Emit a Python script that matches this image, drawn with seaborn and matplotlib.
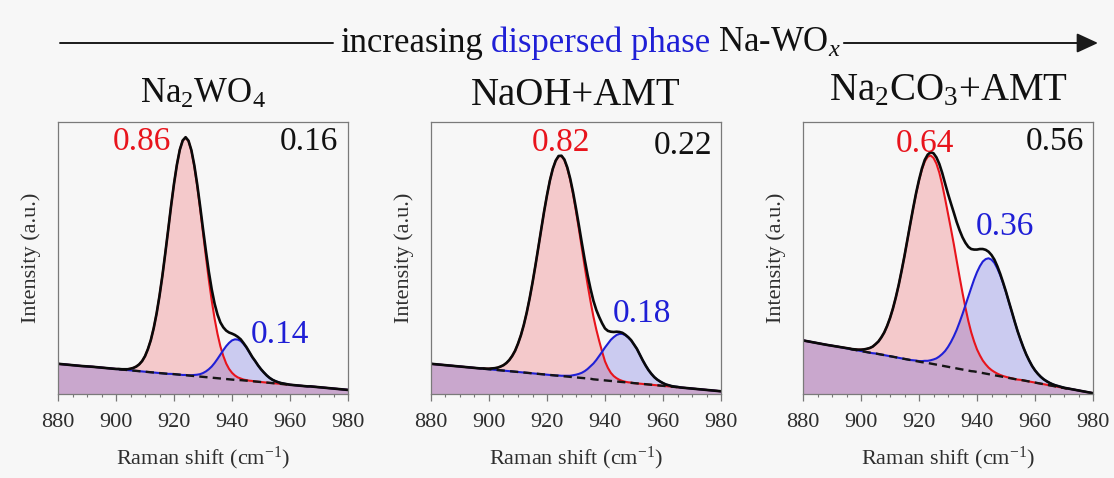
import matplotlib

matplotlib.use("Agg")
import matplotlib.pyplot as plt
import numpy as np
import pandas as pd
import seaborn as sns
from matplotlib.lines import Line2D
from matplotlib.patches import FancyArrowPatch
from matplotlib.ticker import MultipleLocator

# Raman shift grid (cm-1): coarse on the flat ends, 1 cm-1 through the bands
raman_shift = [880, 884, 888, 892,
               896, 897, 898, 899, 900, 901, 902, 903, 904, 905,
               906, 907, 908, 909, 910, 911, 912, 913, 914, 915,
               916, 917, 918, 919, 920, 921, 922, 923, 924, 925,
               926, 927, 928, 929, 930, 931, 932, 933, 934, 935,
               936, 937, 938, 939, 940, 941, 942, 943, 944, 945,
               946, 947, 948, 949, 950, 951, 952, 953, 954, 955,
               956, 957, 958, 959, 960, 961, 962, 963, 964, 965,
               966, 967, 968, 969, 970, 971, 972,
               976, 980]

# --- Na2WO4 ---
base_na2wo4 = [0.111, 0.107, 0.103, 0.100,
               0.096, 0.095, 0.094, 0.093, 0.092, 0.091, 0.090, 0.089, 0.088, 0.087,
               0.086, 0.085, 0.084, 0.083, 0.082, 0.081, 0.080, 0.079, 0.078, 0.077,
               0.076, 0.075, 0.074, 0.074, 0.073, 0.072, 0.071, 0.070, 0.069, 0.068,
               0.067, 0.066, 0.065, 0.064, 0.063, 0.062, 0.061, 0.060, 0.059, 0.058,
               0.057, 0.056, 0.055, 0.054, 0.053, 0.052, 0.051, 0.051, 0.050, 0.049,
               0.048, 0.047, 0.046, 0.045, 0.044, 0.043, 0.042, 0.041, 0.040, 0.039,
               0.038, 0.037, 0.036, 0.035, 0.034, 0.033, 0.032, 0.031, 0.030, 0.029,
               0.028, 0.028, 0.027, 0.026, 0.025, 0.024, 0.023,
               0.019, 0.015]
bulk_na2wo4 = [0, 0, 0, 0,
               0, 0, 0, 0, 0, 0.001, 0.001, 0.002, 0.003, 0.006,
               0.010, 0.016, 0.025, 0.038, 0.057, 0.084, 0.118, 0.163, 0.218, 0.284,
               0.359, 0.443, 0.530, 0.618, 0.700, 0.771, 0.827, 0.862, 0.874, 0.862,
               0.827, 0.771, 0.700, 0.618, 0.530, 0.443, 0.359, 0.284, 0.218, 0.163,
               0.118, 0.084, 0.057, 0.038, 0.025, 0.016, 0.010, 0.006, 0.003, 0.002,
               0.001, 0.001, 0, 0, 0, 0, 0, 0, 0, 0,
               0, 0, 0, 0, 0, 0, 0, 0, 0, 0,
               0, 0, 0, 0, 0, 0, 0,
               0, 0]
disp_na2wo4 = [0, 0, 0, 0,
               0, 0, 0, 0, 0, 0, 0, 0, 0, 0,
               0, 0, 0, 0, 0, 0, 0, 0, 0, 0,
               0, 0, 0, 0, 0, 0, 0, 0, 0.001, 0.001,
               0.002, 0.004, 0.006, 0.009, 0.014, 0.021, 0.030, 0.041, 0.055, 0.071,
               0.088, 0.105, 0.121, 0.134, 0.144, 0.149, 0.149, 0.144, 0.134, 0.121,
               0.105, 0.088, 0.075, 0.060, 0.047, 0.036, 0.026, 0.018, 0.012, 0.008,
               0.005, 0.003, 0.002, 0.001, 0, 0, 0, 0, 0, 0,
               0, 0, 0, 0, 0, 0, 0,
               0, 0]

# --- NaOH+AMT ---
base_naoh = [0.111, 0.107, 0.103, 0.099,
             0.095, 0.094, 0.093, 0.092, 0.091, 0.090, 0.089, 0.088, 0.087, 0.086,
             0.085, 0.084, 0.083, 0.082, 0.081, 0.080, 0.079, 0.078, 0.077, 0.076,
             0.075, 0.074, 0.073, 0.072, 0.071, 0.070, 0.069, 0.068, 0.067, 0.066,
             0.065, 0.064, 0.063, 0.062, 0.061, 0.060, 0.059, 0.058, 0.057, 0.056,
             0.054, 0.053, 0.052, 0.051, 0.050, 0.049, 0.048, 0.047, 0.046, 0.045,
             0.044, 0.043, 0.042, 0.041, 0.040, 0.039, 0.038, 0.037, 0.036, 0.035,
             0.034, 0.033, 0.032, 0.031, 0.030, 0.029, 0.028, 0.027, 0.026, 0.025,
             0.024, 0.023, 0.022, 0.021, 0.020, 0.019, 0.018,
             0.014, 0.010]
bulk_naoh = [0, 0, 0, 0,
             0, 0, 0.001, 0.001, 0.002, 0.004, 0.006, 0.009, 0.014, 0.020,
             0.029, 0.041, 0.057, 0.077, 0.104, 0.136, 0.175, 0.221, 0.274, 0.333,
             0.397, 0.464, 0.532, 0.599, 0.660, 0.715, 0.759, 0.790, 0.807, 0.809,
             0.795, 0.766, 0.725, 0.672, 0.611, 0.546, 0.478, 0.410, 0.345, 0.285,
             0.231, 0.184, 0.143, 0.105, 0.070, 0.047, 0.030, 0.019, 0.012, 0.007,
             0.004, 0.002, 0.001, 0.001, 0, 0, 0, 0, 0, 0,
             0, 0, 0, 0, 0, 0, 0, 0, 0, 0,
             0, 0, 0, 0, 0, 0, 0,
             0, 0]
disp_naoh = [0, 0, 0, 0,
             0, 0, 0, 0, 0, 0, 0, 0, 0, 0,
             0, 0, 0, 0, 0, 0, 0, 0, 0, 0,
             0, 0, 0, 0, 0, 0, 0, 0, 0.001, 0.001,
             0.002, 0.003, 0.004, 0.007, 0.010, 0.014, 0.019, 0.026, 0.035, 0.046,
             0.058, 0.072, 0.088, 0.104, 0.121, 0.136, 0.151, 0.162, 0.171, 0.176,
             0.177, 0.173, 0.166, 0.156, 0.142, 0.127, 0.107, 0.087, 0.069, 0.053,
             0.040, 0.029, 0.021, 0.015, 0.010, 0.006, 0.004, 0.002, 0.001, 0.001,
             0, 0, 0, 0, 0, 0, 0,
             0, 0]

# --- Na2CO3+AMT ---
base_na2co3 = [0.197, 0.189, 0.181, 0.174,
               0.166, 0.164, 0.162, 0.160, 0.158, 0.156, 0.154, 0.152, 0.150, 0.149,
               0.147, 0.145, 0.143, 0.141, 0.139, 0.137, 0.135, 0.133, 0.131, 0.129,
               0.127, 0.125, 0.123, 0.121, 0.119, 0.117, 0.116, 0.114, 0.112, 0.110,
               0.108, 0.106, 0.104, 0.102, 0.100, 0.098, 0.096, 0.094, 0.092, 0.090,
               0.088, 0.086, 0.084, 0.083, 0.081, 0.079, 0.077, 0.075, 0.073, 0.071,
               0.069, 0.067, 0.065, 0.063, 0.061, 0.059, 0.057, 0.055, 0.053, 0.052,
               0.050, 0.048, 0.046, 0.044, 0.042, 0.040, 0.038, 0.036, 0.034, 0.032,
               0.030, 0.028, 0.026, 0.024, 0.022, 0.020, 0.019,
               0.011, 0.003]
bulk_na2co3 = [0, 0, 0, 0,
               0.001, 0.001, 0.002, 0.003, 0.005, 0.008, 0.012, 0.017, 0.024, 0.034,
               0.046, 0.063, 0.083, 0.109, 0.140, 0.177, 0.220, 0.268, 0.322, 0.379,
               0.440, 0.501, 0.560, 0.616, 0.666, 0.708, 0.739, 0.758, 0.765, 0.758,
               0.739, 0.708, 0.666, 0.616, 0.563, 0.510, 0.455, 0.396, 0.338, 0.282,
               0.230, 0.183, 0.143, 0.110, 0.083, 0.063, 0.046, 0.034, 0.024, 0.017,
               0.012, 0.008, 0.005, 0.003, 0.002, 0.001, 0.001, 0, 0, 0,
               0, 0, 0, 0, 0, 0, 0, 0, 0, 0,
               0, 0, 0, 0, 0, 0, 0,
               0, 0]
disp_na2co3 = [0, 0, 0, 0,
               0, 0, 0, 0, 0, 0, 0, 0, 0, 0,
               0, 0, 0, 0, 0, 0, 0, 0, 0, 0,
               0, 0, 0.001, 0.002, 0.002, 0.004, 0.006, 0.008, 0.012, 0.017,
               0.023, 0.032, 0.043, 0.056, 0.073, 0.093, 0.116, 0.142, 0.172, 0.204,
               0.238, 0.272, 0.306, 0.338, 0.367, 0.391, 0.410, 0.421, 0.426, 0.423,
               0.413, 0.395, 0.372, 0.344, 0.313, 0.279, 0.245, 0.211, 0.178, 0.148,
               0.121, 0.097, 0.077, 0.059, 0.045, 0.034, 0.025, 0.018, 0.013, 0.009,
               0.006, 0.004, 0.003, 0.002, 0.001, 0.001, 0,
               0, 0]

samples = ["Na$_2$WO$_4$", "NaOH+AMT", "Na$_2$CO$_3$+AMT"]
bulk_frac = ["0.86", "0.82", "0.64"]
disp_frac = ["0.14", "0.18", "0.36"]
ratio_text = ["0.16", "0.22", "0.56"]

bases = [base_na2wo4, base_naoh, base_na2co3]
bulks = [bulk_na2wo4, bulk_naoh, bulk_na2co3]
disps = [disp_na2wo4, disp_naoh, disp_na2co3]

# layout (pixels of a 1114x478 canvas)
W, H = 1114, 478
ax_left = [58, 431, 803]
ax_w, ax_h, ax_bottom = 290, 272, 84
title_base = [1.072, 1.062, 1.080]
title_size = [25, 28, 28]
# (x, baseline y) in axes fraction for the red / black / blue numbers
pos_bulk = [(0.29, 0.897), (0.448, 0.894), (0.419, 0.889)]
pos_ratio = [(0.866, 0.897), (0.869, 0.883), (0.868, 0.896)]
pos_disp = [(0.766, 0.188), (0.729, 0.264), (0.698, 0.584)]

red = "#e8141c"
blue = "#1f1fd6"
bg = "#f7f7f7"
grey = "#2e2e2e"

sns.set_theme(style="ticks")
plt.rcParams["font.family"] = ["Liberation Serif", "DejaVu Serif"]
plt.rcParams["mathtext.fontset"] = "custom"
plt.rcParams["mathtext.rm"] = "Liberation Serif"
plt.rcParams["mathtext.it"] = "Liberation Serif:italic"
plt.rcParams["mathtext.bf"] = "Liberation Serif:bold"

fig = plt.figure(figsize=(W / 100, H / 100), dpi=100, facecolor=bg)

for k in range(3):
    ax = fig.add_axes([ax_left[k] / W, ax_bottom / H, ax_w / W, ax_h / H])
    ax.set_facecolor(bg)

    df = pd.DataFrame(
        {"shift": raman_shift, "base": bases[k], "bulk": bulks[k], "disp": disps[k]}
    )
    df["bulk_line"] = df["base"] + df["bulk"]
    df["disp_line"] = df["base"] + df["disp"]
    df["total"] = df["base"] + df["bulk"] + df["disp"]

    # filled components (both filled down to zero -> purple overlap)
    ax.fill_between(df["shift"], 0, df["bulk_line"], color=red, alpha=0.2, lw=0)
    ax.fill_between(df["shift"], 0, df["disp_line"], color=blue, alpha=0.2, lw=0)

    sns.lineplot(data=df, x="shift", y="bulk_line", color=red, lw=1.5, ax=ax)
    sns.lineplot(data=df, x="shift", y="disp_line", color=blue, lw=1.5, ax=ax)

    band = df[(df["bulk"] + df["disp"]) > 0]
    sns.lineplot(
        data=band, x="shift", y="base", color="#151515", lw=1.7,
        linestyle=(0, (3.5, 2.2)), ax=ax,
    )
    sns.lineplot(data=df, x="shift", y="total", color="#0a0a0a", lw=1.9, ax=ax)

    ax.set_xlim(880, 980)
    ax.set_ylim(0, 1)
    ax.set_yticks([])
    ax.xaxis.set_major_locator(MultipleLocator(20))
    ax.xaxis.set_minor_locator(MultipleLocator(5))
    ax.tick_params(axis="x", which="major", direction="out", length=5, width=0.9,
                   color="#777777", labelsize=16, labelcolor=grey, pad=9)
    ax.tick_params(axis="x", which="minor", direction="out", length=2.5, width=0.8,
                   color="#777777")
    for sp in ax.spines.values():
        sp.set_color("#7a7a7a")
        sp.set_linewidth(0.9)

    ax.set_xlabel("Raman shift (cm$^{-1}$)", fontsize=16, color=grey, labelpad=9)
    ax.set_ylabel("Intensity (a.u.)", fontsize=16, color=grey, labelpad=12)

    ax.text(0.5, title_base[k], samples[k], transform=ax.transAxes, ha="center",
            va="baseline", fontsize=title_size[k], color="#111111")
    ax.text(*pos_bulk[k], bulk_frac[k], transform=ax.transAxes, ha="center",
            va="baseline", fontsize=24, color=red)
    ax.text(*pos_ratio[k], ratio_text[k], transform=ax.transAxes, ha="center",
            va="baseline", fontsize=24, color="#111111")
    ax.text(*pos_disp[k], disp_frac[k], transform=ax.transAxes, ha="center",
            va="baseline", fontsize=24, color=blue)

# top banner: arrow with text in the gap
y_txt = (H - 52) / H
y_line = (H - 43) / H
renderer = fig.canvas.get_renderer()
x = 340 / W
gap = 8 / W
parts = [("increasing", "#111111"), ("dispersed phase", blue), ("Na-WO$_x$", "#111111")]
for i, (txt, col) in enumerate(parts):
    t = fig.text(x, y_txt, txt, color=col, fontsize=25, va="baseline", ha="left")
    bb = t.get_window_extent(renderer=renderer)
    x = bb.x1 / W + gap
    if i == 0:
        x_text_start = bb.x0 / W
x_text_end = x - gap

fig.add_artist(Line2D([60 / W, x_text_start - 7 / W], [y_line, y_line],
                      transform=fig.transFigure, color="#1a1a1a", lw=1.4))
fig.add_artist(FancyArrowPatch((x_text_end + 3 / W, y_line), (1098 / W, y_line),
                               transform=fig.transFigure, color="#1a1a1a", lw=1.4,
                               arrowstyle="-|>,head_length=0.65,head_width=0.3",
                               mutation_scale=20, shrinkA=0, shrinkB=0))

fig.savefig("out.png", dpi=100, facecolor=bg)
